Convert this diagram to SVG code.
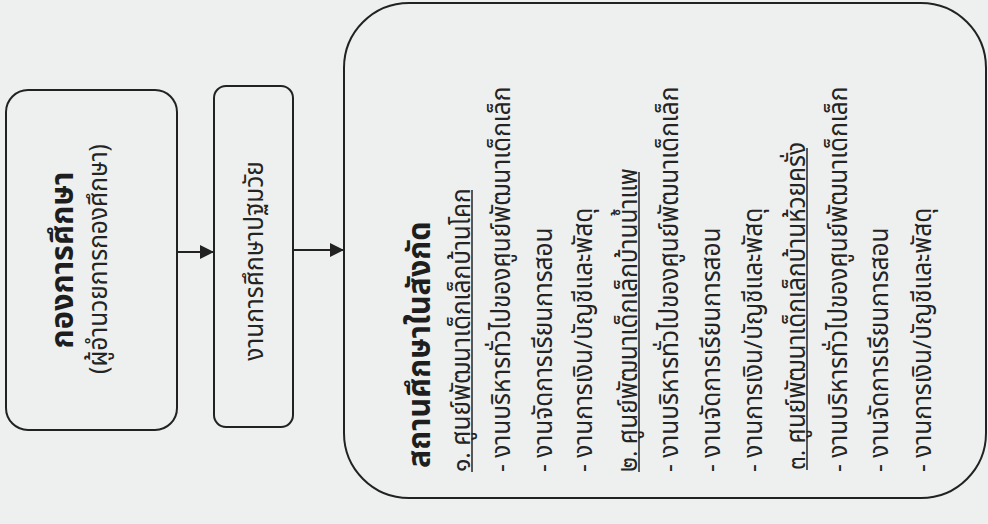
<svg xmlns="http://www.w3.org/2000/svg" width="988" height="524" viewBox="0 0 988 524">
<style>
.bg{fill:#edf0ee}
.box{fill:none;stroke:#222;stroke-width:2}
.edge{stroke:#222;stroke-width:2;fill:none}
.t{font-family:"Noto Sans Thai","Noto Sans","DejaVu Sans",sans-serif;font-size:26px;fill:#242424}
.h{font-family:"Noto Sans Thai","Noto Sans","DejaVu Sans",sans-serif;font-size:32px;font-weight:bold;fill:#1e1e1e}
.ul{stroke:#242424;stroke-width:1.5}
</style>
<defs>
<marker id="ah" viewBox="0 0 10 10" refX="10" refY="5" markerWidth="15" markerHeight="14" markerUnits="userSpaceOnUse" orient="auto">
<path d="M0,0 L10,5 L0,10 Z" fill="#222"/>
</marker>
</defs>
<rect class="bg" x="0" y="0" width="988" height="524"/>

<g id="connectors">
<line class="edge" x1="177" y1="252" x2="214" y2="252" marker-end="url(#ah)"/>
<line class="edge" x1="293" y1="250" x2="344" y2="250" marker-end="url(#ah)"/>
</g>

<g id="node-division">
<rect class="box" x="6" y="90" width="171" height="340" rx="22"/>
<text class="h" text-anchor="middle" transform="translate(73,260) rotate(-90) scale(0.96,1)">กองการศึกษา</text>
<text class="t" text-anchor="middle" transform="translate(107,259) rotate(-90) scale(0.94,1)">(ผู้อำนวยการกองศึกษา)</text>
</g>

<g id="node-early">
<rect class="box" x="214" y="86" width="79" height="341" rx="12"/>
<text class="t" text-anchor="middle" transform="translate(263,261) rotate(-90) scale(0.94,1)">งานการศึกษาปฐมวัย</text>
</g>

<g id="node-schools">
<rect class="box" x="344" y="3" width="642" height="495" rx="65"/>
<text class="h" transform="translate(430,468) rotate(-90) scale(0.95,1)">สถานศึกษาในสังกัด</text>

<text class="t" transform="translate(470,472) rotate(-90) scale(0.94,1)">๑. ศูนย์พัฒนาเด็กเล็กบ้านโคก</text>
<line class="ul" x1="472" y1="472" x2="472" y2="190"/>
<text class="t" transform="translate(510,472) rotate(-90) scale(0.94,1)">- งานบริหารทั่วไปของศูนย์พัฒนาเด็กเล็ก</text>
<text class="t" transform="translate(552,472) rotate(-90) scale(0.94,1)">- งานจัดการเรียนการสอน</text>
<text class="t" transform="translate(592,472) rotate(-90) scale(0.94,1)">- งานการเงิน/บัญชีและพัสดุ</text>

<text class="t" transform="translate(637,472) rotate(-90) scale(0.94,1)">๒. ศูนย์พัฒนาเด็กเล็กบ้านน้ำแพ</text>
<line class="ul" x1="639" y1="472" x2="639" y2="172"/>
<text class="t" transform="translate(678,472) rotate(-90) scale(0.94,1)">- งานบริหารทั่วไปของศูนย์พัฒนาเด็กเล็ก</text>
<text class="t" transform="translate(720,472) rotate(-90) scale(0.94,1)">- งานจัดการเรียนการสอน</text>
<text class="t" transform="translate(762,472) rotate(-90) scale(0.94,1)">- งานการเงิน/บัญชีและพัสดุ</text>

<text class="t" transform="translate(805,470) rotate(-90) scale(0.94,1)">๓. ศูนย์พัฒนาเด็กเล็กบ้านห้วยครั่ง</text>
<line class="ul" x1="807" y1="470" x2="807" y2="148"/>
<text class="t" transform="translate(847,472) rotate(-90) scale(0.94,1)">- งานบริหารทั่วไปของศูนย์พัฒนาเด็กเล็ก</text>
<text class="t" transform="translate(888,472) rotate(-90) scale(0.94,1)">- งานจัดการเรียนการสอน</text>
<text class="t" transform="translate(931,472) rotate(-90) scale(0.94,1)">- งานการเงิน/บัญชีและพัสดุ</text>
</g>
</svg>
